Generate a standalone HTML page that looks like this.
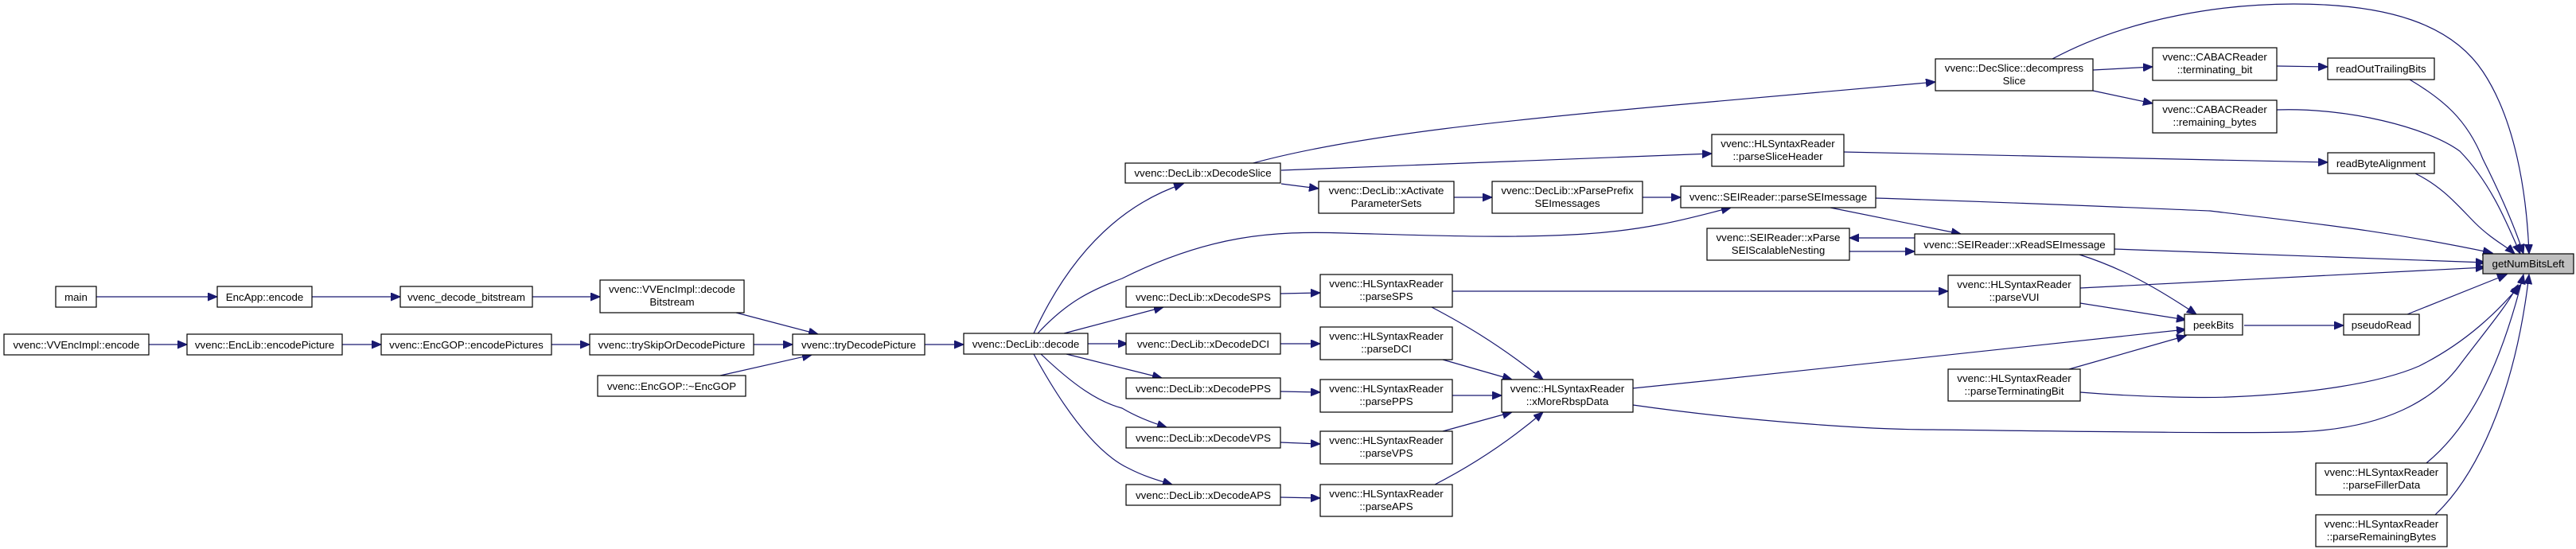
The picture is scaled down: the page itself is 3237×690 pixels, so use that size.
<!DOCTYPE html>
<html><head><meta charset="utf-8"><style>
html,body{margin:0;padding:0;background:#fff;}
svg{display:block;}
text{font-family:"Liberation Sans",Arial,sans-serif;font-size:13.3px;fill:#000;text-anchor:middle;}
.b{fill:#fff;stroke:#000;stroke-width:1.2;}
.e{fill:none;stroke:#191970;stroke-width:1.2;marker-end:url(#ah);}
</style></head><body>
<svg width="3237" height="690" viewBox="0 0 3237 690" xmlns="http://www.w3.org/2000/svg">
<defs>
<marker id="ah" markerUnits="userSpaceOnUse" markerWidth="14" markerHeight="12" refX="12" refY="5" orient="auto">
<path d="M0,0 L12,5 L0,10 Z" fill="#191970" stroke="#191970"/>
</marker>
</defs>

<!-- edges -->
<path class="e" d="M121,373 L273,373"/>
<path class="e" d="M392,373 L503,373"/>
<path class="e" d="M669,373 L754,373"/>
<path class="e" d="M925,393 L1028,420"/>
<path class="e" d="M187,433 L235,433"/>
<path class="e" d="M430,433 L479,433"/>
<path class="e" d="M693,433 L741,433"/>
<path class="e" d="M947,433 L996,433"/>
<path class="e" d="M905,472 L1020,446"/>
<path class="e" d="M1162,433 L1211,433"/>
<path class="e" d="M1299,419 C1340,330 1400,260 1487,231"/>
<path class="e" d="M1304,419 C1340,380 1370,365 1410,350 C1520,295 1600,290 1690,293 C1800,296 1900,300 1992,294 C2080,288 2130,272 2175,261"/>
<path class="e" d="M1337,419 L1462,386"/>
<path class="e" d="M1367,432 L1417,432"/>
<path class="e" d="M1340,445 L1460,475"/>
<path class="e" d="M1308,445 C1350,485 1380,505 1410,513 C1430,525 1450,532 1466,537"/>
<path class="e" d="M1299,445 C1340,520 1380,570 1417,588 C1440,600 1460,605 1473,609"/>
<path class="e" d="M1571,206 C1700,170 1900,150 2150,128 L2432,103"/>
<path class="e" d="M1610,214 L2151,193"/>
<path class="e" d="M1610,231 L1657,237"/>
<path class="e" d="M1827,248 L1875,248"/>
<path class="e" d="M2064,248 L2112,248"/>
<path class="e" d="M1609,369 L1659,368"/>
<path class="e" d="M1609,432 L1659,432"/>
<path class="e" d="M1609,492 L1659,493"/>
<path class="e" d="M1609,556 L1659,558"/>
<path class="e" d="M1609,625 L1659,626"/>
<path class="e" d="M1799,386 C1835,405 1880,430 1939,477"/>
<path class="e" d="M1813,452 L1900,477"/>
<path class="e" d="M1825,497 L1887,497"/>
<path class="e" d="M1813,542 L1900,518"/>
<path class="e" d="M1803,609 C1840,590 1890,560 1939,518"/>
<path class="e" d="M1825,366 L2448,366"/>
<path class="e" d="M2052,488 L2150,478 L2747,414"/>
<path class="e" d="M2052,509 C2200,530 2350,540 2429,540 C2600,542 2800,545 2882,543 C3000,540 3060,500 3090,460 C3120,420 3150,385 3164,358"/>
<path class="e" d="M2317,191 L2925,204"/>
<path class="e" d="M2357,249 C2550,255 2700,262 2777,265 C2900,280 3000,290 3132,318"/>
<path class="e" d="M2300,261 L2464,294"/>
<path class="e" d="M2406,299 L2324,299"/>
<path class="e" d="M2324,316 L2406,316"/>
<path class="e" d="M2657,313 L3123,330"/>
<path class="e" d="M2613,320 C2660,335 2700,355 2760,395"/>
<path class="e" d="M2614,362 L3123,336"/>
<path class="e" d="M2614,381 L2747,402"/>
<path class="e" d="M2600,464 L2747,422"/>
<path class="e" d="M2614,493 C2700,500 2777,500 2800,499 C2900,495 2990,482 3040,460 C3100,430 3140,390 3167,358"/>
<path class="e" d="M2820,409 L2945,409"/>
<path class="e" d="M3025,395 L3150,345"/>
<path class="e" d="M2630,88 L2705,84"/>
<path class="e" d="M2630,114 L2705,130"/>
<path class="e" d="M2861,83 L2925,84"/>
<path class="e" d="M2579,74 C2680,20 2800,5 2882,5 C3000,5 3080,30 3120,90 C3160,150 3175,240 3178,319"/>
<path class="e" d="M3028,100 C3070,125 3100,150 3120,200 C3140,240 3160,285 3171,319"/>
<path class="e" d="M2861,138 C2950,135 3050,160 3091,190 C3130,230 3150,280 3167,319"/>
<path class="e" d="M3035,218 C3070,235 3090,260 3110,280 C3130,300 3150,310 3160,319"/>
<path class="e" d="M3049,582 C3100,540 3140,470 3171,345"/>
<path class="e" d="M3060,647 C3110,600 3160,500 3178,345"/>

<!-- nodes -->
<rect class="b" x="70" y="360" width="51" height="26"/><text x="95.5" y="378">main</text>
<rect class="b" x="273" y="360" width="119" height="26"/><text x="332.5" y="378">EncApp::encode</text>
<rect class="b" x="503" y="360" width="166" height="26"/><text x="586" y="378">vvenc_decode_bitstream</text>
<rect class="b" x="754" y="352" width="181" height="41"/><text x="844.5" y="368">vvenc::VVEncImpl::decode</text><text x="844.5" y="384">Bitstream</text>
<rect class="b" x="5" y="420" width="182" height="26"/><text x="96" y="438">vvenc::VVEncImpl::encode</text>
<rect class="b" x="235" y="420" width="195" height="26"/><text x="332.5" y="438">vvenc::EncLib::encodePicture</text>
<rect class="b" x="479" y="420" width="214" height="26"/><text x="586" y="438">vvenc::EncGOP::encodePictures</text>
<rect class="b" x="741" y="420" width="206" height="26"/><text x="844" y="438">vvenc::trySkipOrDecodePicture</text>
<rect class="b" x="996" y="420" width="166" height="26"/><text x="1079" y="438">vvenc::tryDecodePicture</text>
<rect class="b" x="751" y="472" width="186" height="26"/><text x="844" y="490">vvenc::EncGOP::~EncGOP</text>
<rect class="b" x="1211" y="419" width="156" height="26"/><text x="1289" y="437">vvenc::DecLib::decode</text>
<rect class="b" x="1414" y="205" width="195" height="25"/><text x="1511.5" y="222">vvenc::DecLib::xDecodeSlice</text>
<rect class="b" x="1657" y="228" width="170" height="40"/><text x="1742" y="244">vvenc::DecLib::xActivate</text><text x="1742" y="260">ParameterSets</text>
<rect class="b" x="1875" y="228" width="189" height="40"/><text x="1969.5" y="244">vvenc::DecLib::xParsePrefix</text><text x="1969.5" y="260">SEImessages</text>
<rect class="b" x="2112" y="234" width="245" height="27"/><text x="2234.5" y="252">vvenc::SEIReader::parseSEImessage</text>
<rect class="b" x="2151" y="169" width="166" height="40"/><text x="2234" y="185">vvenc::HLSyntaxReader</text><text x="2234" y="201">::parseSliceHeader</text>
<rect class="b" x="2145" y="287" width="179" height="40"/><text x="2234.5" y="303">vvenc::SEIReader::xParse</text><text x="2234.5" y="319">SEIScalableNesting</text>
<rect class="b" x="1415" y="360" width="194" height="26"/><text x="1512" y="378">vvenc::DecLib::xDecodeSPS</text>
<rect class="b" x="1659" y="345" width="166" height="41"/><text x="1742" y="361">vvenc::HLSyntaxReader</text><text x="1742" y="377">::parseSPS</text>
<rect class="b" x="1415" y="419" width="194" height="26"/><text x="1512" y="437">vvenc::DecLib::xDecodeDCI</text>
<rect class="b" x="1659" y="411" width="166" height="41"/><text x="1742" y="427">vvenc::HLSyntaxReader</text><text x="1742" y="443">::parseDCI</text>
<rect class="b" x="1415" y="475" width="194" height="26"/><text x="1512" y="493">vvenc::DecLib::xDecodePPS</text>
<rect class="b" x="1659" y="477" width="166" height="41"/><text x="1742" y="493">vvenc::HLSyntaxReader</text><text x="1742" y="509">::parsePPS</text>
<rect class="b" x="1887" y="477" width="165" height="41"/><text x="1969.5" y="493">vvenc::HLSyntaxReader</text><text x="1969.5" y="509">::xMoreRbspData</text>
<rect class="b" x="1415" y="537" width="194" height="26"/><text x="1512" y="555">vvenc::DecLib::xDecodeVPS</text>
<rect class="b" x="1659" y="542" width="166" height="41"/><text x="1742" y="558">vvenc::HLSyntaxReader</text><text x="1742" y="574">::parseVPS</text>
<rect class="b" x="1415" y="609" width="194" height="26"/><text x="1512" y="627">vvenc::DecLib::xDecodeAPS</text>
<rect class="b" x="1659" y="609" width="166" height="40"/><text x="1742" y="625">vvenc::HLSyntaxReader</text><text x="1742" y="641">::parseAPS</text>
<rect class="b" x="2432" y="74" width="198" height="40"/><text x="2531" y="90">vvenc::DecSlice::decompress</text><text x="2531" y="106">Slice</text>
<rect class="b" x="2705" y="60" width="156" height="41"/><text x="2783" y="76">vvenc::CABACReader</text><text x="2783" y="92">::terminating_bit</text>
<rect class="b" x="2705" y="126" width="156" height="41"/><text x="2783" y="142">vvenc::CABACReader</text><text x="2783" y="158">::remaining_bytes</text>
<rect class="b" x="2925" y="73" width="134" height="27"/><text x="2992" y="91">readOutTrailingBits</text>
<rect class="b" x="2925" y="192" width="134" height="26"/><text x="2992" y="210">readByteAlignment</text>
<rect class="b" x="2406" y="294" width="251" height="26"/><text x="2531.5" y="312">vvenc::SEIReader::xReadSEImessage</text>
<rect class="b" x="2448" y="346" width="166" height="40"/><text x="2531" y="362">vvenc::HLSyntaxReader</text><text x="2531" y="378">::parseVUI</text>
<rect class="b" x="2745" y="395" width="73" height="26"/><text x="2781.5" y="413">peekBits</text>
<rect class="b" x="2945" y="395" width="95" height="26"/><text x="2992.5" y="413">pseudoRead</text>
<rect class="b" x="2448" y="464" width="166" height="40"/><text x="2531" y="480">vvenc::HLSyntaxReader</text><text x="2531" y="496">::parseTerminatingBit</text>
<rect x="3120" y="319" width="114" height="25" fill="#bfbfbf" stroke="#000" stroke-width="1.2"/><text x="3177" y="336">getNumBitsLeft</text>
<rect class="b" x="2910" y="582" width="165" height="40"/><text x="2992.5" y="598">vvenc::HLSyntaxReader</text><text x="2992.5" y="614">::parseFillerData</text>
<rect class="b" x="2910" y="647" width="165" height="40"/><text x="2992.5" y="663">vvenc::HLSyntaxReader</text><text x="2992.5" y="679">::parseRemainingBytes</text>
</svg>
</body></html>
